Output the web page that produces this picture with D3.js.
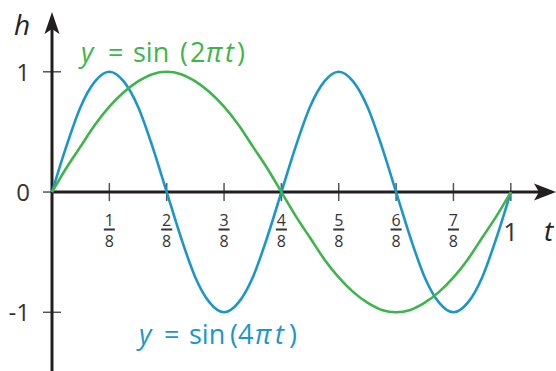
<!DOCTYPE html>
<html>
<head>
<meta charset="utf-8">
<script src="https://cdn.jsdelivr.net/npm/d3@7"></script>
<style>
  body{margin:0;background:#fff;}
  svg{font-family:"Open Sans",sans-serif;}
</style>
</head>
<body>
<svg width="556" height="371"></svg>
<script>
// values, t step = 1/32
var tSteps=d3.range(0,33).map(function(k){return k/32;});
var greenVals=[0,0.20,0.38,0.56,0.71,0.83,0.92,0.98,1,0.98,0.92,0.83,0.71,0.56,0.38,0.20,0,
  -0.20,-0.38,-0.56,-0.71,-0.83,-0.92,-0.98,-1,-0.98,-0.92,-0.83,-0.71,-0.56,-0.38,-0.20,0];
var blueVals=[0,0.38,0.71,0.92,1,0.92,0.71,0.38,0,-0.38,-0.71,-0.92,-1,-0.92,-0.71,-0.38,0,
  0.38,0.71,0.92,1,0.92,0.71,0.38,0,-0.38,-0.71,-0.92,-1,-0.92,-0.71,-0.38,0];
var xTicks=[1,2,3,4,5,6,7];   // numerators over 8
var yTicks=[1,0,-1];

var svg=d3.select('svg');
var x=d3.scaleLinear().domain([0,1]).range([52,510.8]);
var y=d3.scaleLinear().domain([-1,1]).range([312.3,71.8]);

var axisColor='#231f20';
var tickColor='#555';
var green='#3db54a';
var blue='#1b96cc';

// ticks
svg.selectAll('line.xtick').data(xTicks.concat([8])).enter().append('line')
  .attr('class','xtick')
  .attr('x1',function(d){return x(d/8);}).attr('x2',function(d){return x(d/8);})
  .attr('y1',y(0)-9).attr('y2',y(0)+9)
  .attr('stroke',tickColor).attr('stroke-width',1.5);
svg.selectAll('line.ytick').data(yTicks).enter().append('line')
  .attr('class','ytick')
  .attr('x1',x(0)-9).attr('x2',x(0)+9)
  .attr('y1',function(d){return y(d);}).attr('y2',function(d){return y(d);})
  .attr('stroke',tickColor).attr('stroke-width',1.5);

// axes
svg.append('line').attr('x1',x(0)).attr('x2',540).attr('y1',y(0)).attr('y2',y(0))
  .attr('stroke',axisColor).attr('stroke-width',3);
svg.append('line').attr('x1',x(0)).attr('x2',x(0)).attr('y1',371).attr('y2',28)
  .attr('stroke',axisColor).attr('stroke-width',3);
// arrowheads
var ax=x(0),ay=y(0);
svg.append('path').attr('fill',axisColor)
  .attr('d','M'+ax+',12 L'+(ax+7.5)+',34 L'+ax+',29 L'+(ax-7.5)+',34 Z');
svg.append('path').attr('fill',axisColor)
  .attr('d','M556,'+ay+' L534,'+(ay-8.5)+' L539,'+ay+' L534,'+(ay+8.5)+' Z');

// curves
var line=d3.line()
  .x(function(d){return x(d[0]);})
  .y(function(d){return y(d[1]);})
  .curve(d3.curveMonotoneX);
svg.append('path').datum(d3.zip(tSteps,blueVals))
  .attr('d',line).attr('fill','none').attr('stroke',blue).attr('stroke-width',2.6);
svg.append('path').datum(d3.zip(tSteps,greenVals))
  .attr('d',line).attr('fill','none').attr('stroke',green).attr('stroke-width',2.6);

// fraction labels
var frac=svg.selectAll('g.frac').data(xTicks).enter().append('g')
  .attr('class','frac')
  .attr('transform',function(d){return 'translate('+x(d/8)+',0)';});
frac.append('text').attr('text-anchor','middle').attr('y',225.5)
  .attr('font-size',16).attr('fill','#333').text(function(d){return d;});
frac.append('rect').attr('x',-5.5).attr('y',228.5).attr('width',11).attr('height',2)
  .attr('fill','#333');
frac.append('text').attr('text-anchor','middle').attr('y',246.5)
  .attr('font-size',16).attr('fill','#333').text('8');

svg.append('text').attr('x',x(1)).attr('y',241).attr('text-anchor','middle')
  .attr('font-size',26).attr('fill','#333').text('1');

// y labels
svg.selectAll('text.ylab').data(yTicks).enter().append('text')
  .attr('class','ylab')
  .attr('x',30).attr('y',function(d){return y(d)+9;})
  .attr('text-anchor','end').attr('font-size',24).attr('fill','#333')
  .text(function(d){return d;});

// axis names
svg.append('text').attr('x',14).attr('y',35).attr('font-size',28)
  .attr('font-style','italic').attr('fill','#222').text('h');
svg.append('text').attr('x',544).attr('y',241).attr('font-size',28)
  .attr('font-style','italic').attr('fill','#222').text('t');

// equation labels, pieces placed one by one
function eq(num,xs,py,col){
  var parts=[['y',true],['=',false],['sin',false],['(',false],[num,false],['\u03c0',true],['t',true],[')',false]];
  var g=svg.append('text').attr('y',py).attr('font-size',27).attr('fill',col);
  parts.forEach(function(p,i){
    g.append('tspan').attr('x',xs[i])
      .attr('font-style',p[1]?'italic':'normal').text(p[0]);
  });
}
eq('2',[81,108,133,180,190,206,225,237],62,green);
eq('4',[139,164,189,230,238,255,275,289],344,blue);
</script>
</body>
</html>
